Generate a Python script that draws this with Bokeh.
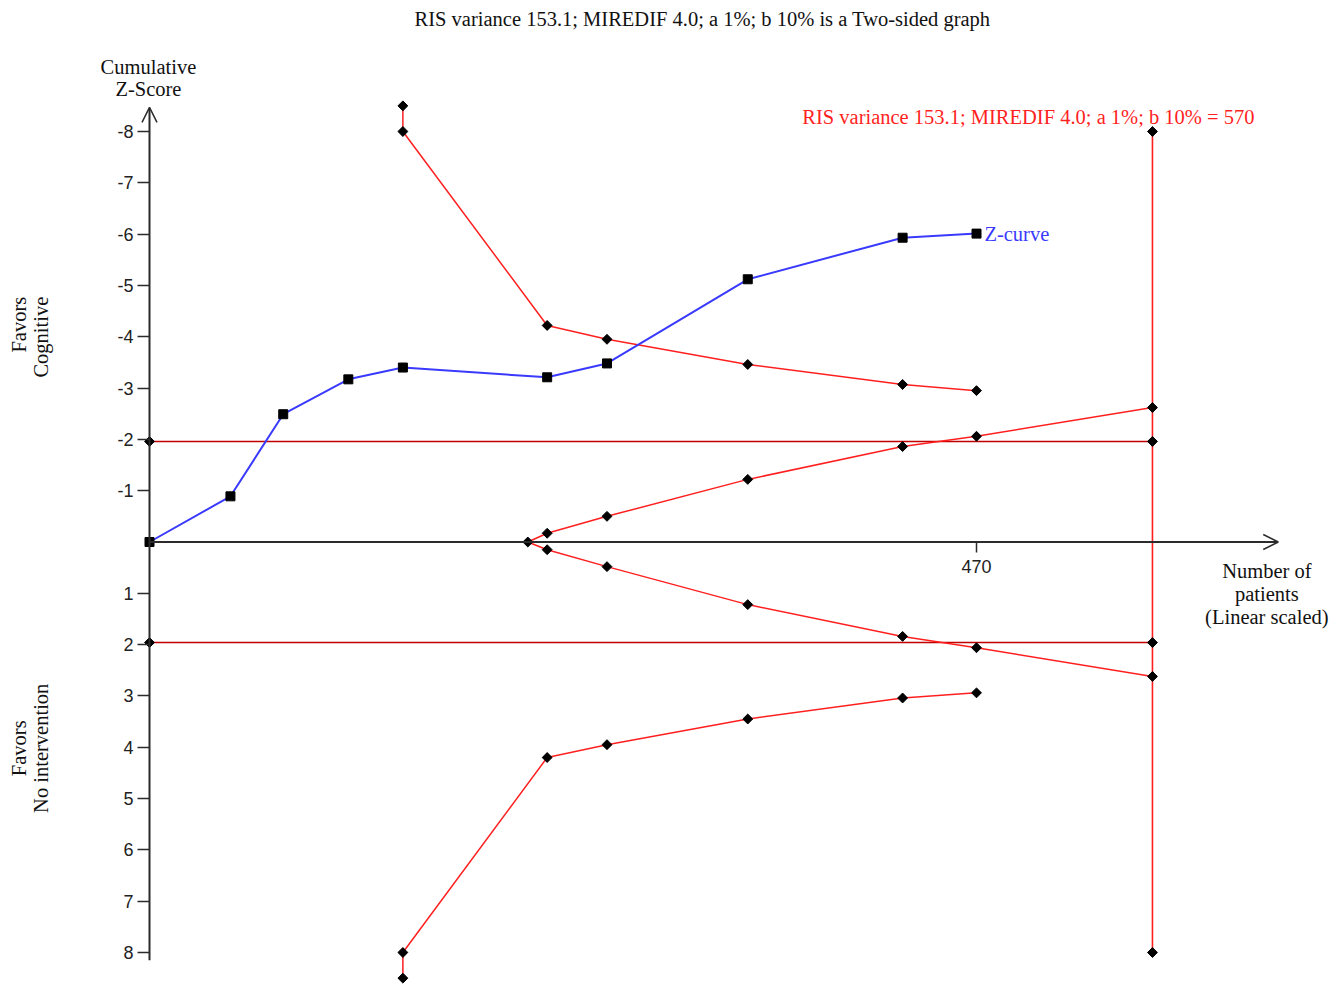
import numpy as np
from bokeh.plotting import figure
from bokeh.models import Range1d, LinearAxis, FixedTicker, Arrow, OpenHead
from bokeh.core.properties import value
from bokeh.embed import file_html
from bokeh.resources import INLINE

# ---- data ----
z_n = [0, 46, 76, 113, 144, 226, 260, 340, 428, 470]
z_curve = [0, -0.89, -2.49, -3.17, -3.40, -3.21, -3.48, -5.12, -5.93, -6.01]

bound_n = [144, 144, 226, 260, 340, 428, 470]
bound_upper = [-8.5, -8.0, -4.22, -3.95, -3.46, -3.07, -2.95]
bound_lower = [8.5, 8.0, 4.20, 3.95, 3.45, 3.04, 2.94]

fut_n = [215, 226, 260, 340, 428, 470, 570]
fut_upper = [0, -0.17, -0.50, -1.22, -1.86, -2.06, -2.62]
fut_lower = [0, 0.15, 0.48, 1.22, 1.84, 2.06, 2.62]

conv_n = [0, 570]
conv_z = 1.96
ris_n = 570
ris_z = [-8, 8]

y_ticks = [-8, -7, -6, -5, -4, -3, -2, -1, 1, 2, 3, 4, 5, 6, 7, 8]
x_ticks = [470]

title_txt = "RIS variance 153.1; MIREDIF 4.0; a 1%; b 10% is a Two-sided graph"
ris_txt = "RIS variance 153.1; MIREDIF 4.0; a 1%; b 10% = 570"

SERIF = value("Liberation Serif")
FS = "20.5px"
RED = "#ff1f1f"
DRED = "#c00000"
BLUE = "#3a3aff"
AX = "#2b2b2b"
TXT = "#111111"

W, H = 1339, 986
px_per_n = 827 / 470.0
px_per_z = 821 / 16.0
x0_px, y0_px = 149.0, 541.5

p = figure(width=W, height=H, output_backend="svg", toolbar_location=None,
           x_axis_type=None, y_axis_type=None,
           x_range=Range1d(-x0_px / px_per_n, (W - x0_px) / px_per_n),
           y_range=Range1d((H - y0_px) / px_per_z, -y0_px / px_per_z),
           min_border=0, outline_line_color=None)

# axes (ticks / labels)
yax = LinearAxis(fixed_location=0, ticker=FixedTicker(ticks=y_ticks),
                 major_label_overrides={t: str(t) for t in y_ticks},
                 axis_line_color=None, major_tick_out=12, major_tick_in=0,
                 major_tick_line_color=AX, major_tick_line_width=1.5,
                 minor_tick_line_color=None, major_label_standoff=4,
                 major_label_text_font_size="18px",
                 major_label_text_font="Liberation Sans",
                 major_label_text_color="#222222")
p.add_layout(yax, "left")
xax = LinearAxis(fixed_location=0, ticker=FixedTicker(ticks=x_ticks),
                 axis_line_color=None, major_tick_out=10, major_tick_in=0,
                 major_tick_line_color=AX, major_tick_line_width=1.5,
                 minor_tick_line_color=None, major_label_standoff=8,
                 major_label_text_font_size="18px",
                 major_label_text_font="Liberation Sans",
                 major_label_text_color="#222222")
p.add_layout(xax, "below")

# axis lines with arrows
p.add_layout(Arrow(end=OpenHead(size=15, line_width=1.5, line_color=AX),
                   x_start=0, y_start=8.15, x_end=0, y_end=-8.47,
                   line_width=2, line_color=AX))
p.add_layout(Arrow(end=OpenHead(size=15, line_width=1.5, line_color=AX),
                   x_start=0, y_start=0, x_end=641.5, y_end=0,
                   line_width=2, line_color=AX))

# conventional boundaries
for s in (-1, 1):
    p.line(conv_n, [s * conv_z] * 2, line_color=DRED, line_width=1.6)
# RIS vertical
p.line([ris_n, ris_n], ris_z, line_color=RED, line_width=1.6)
# monitoring boundaries
p.line(bound_n, bound_upper, line_color=RED, line_width=1.5)
p.line(bound_n, bound_lower, line_color=RED, line_width=1.5)
# futility
p.line(fut_n, fut_upper, line_color=RED, line_width=1.5)
p.line(fut_n, fut_lower, line_color=RED, line_width=1.5)

# diamonds
dx = bound_n + bound_n + fut_n + fut_n[1:] + conv_n + conv_n + [ris_n, ris_n]
dy = (bound_upper + bound_lower + fut_upper + fut_lower[1:]
      + [-conv_z] * 2 + [conv_z] * 2 + ris_z)
p.scatter(dx, dy, marker="square", size=7, angle=np.pi / 4, color="black")

# Z-curve
p.line(z_n, z_curve, line_color=BLUE, line_width=2)
p.scatter(z_n, z_curve, marker="square", size=9, color="black")

# texts
p.text([314.3], [-10.2], text=[title_txt], text_font=SERIF, text_font_size=FS,
       text_align="center", text_baseline="middle", text_color=TXT)
p.text([628], [-8.29], text=[ris_txt], text_font=SERIF, text_font_size=FS,
       text_align="right", text_baseline="middle", text_color=RED)
p.text([474.5], [-6.01], text=["Z-curve"], text_font=SERIF, text_font_size=FS,
       text_align="left", text_baseline="middle", text_color=BLUE)
p.text([-0.6, -0.6], [-9.25, -8.82], text=["Cumulative", "Z-Score"], text_font=SERIF,
       text_font_size=FS, text_align="center", text_baseline="middle",
       text_color=TXT)
p.text([635, 635, 635], [0.56, 1.01, 1.46], text=["Number of", "patients", "(Linear scaled)"],
       text_font=SERIF, text_font_size=FS, text_align="center",
       text_baseline="middle", text_color=TXT)
p.text([-74.4, -61.9], [-4.78, -4.78], text=["Favors", "Cognitive"], text_font=SERIF,
       text_font_size=FS, text_align="right", text_baseline="middle",
       angle=np.pi / 2, text_color=TXT)
p.text([-74.4, -61.9], [4.02, 4.02], text=["Favors", "No intervention"], text_font=SERIF,
       text_font_size=FS, text_align="center", text_baseline="middle",
       angle=np.pi / 2, text_color=TXT)

open("out.html", "w").write(file_html(p, INLINE))
